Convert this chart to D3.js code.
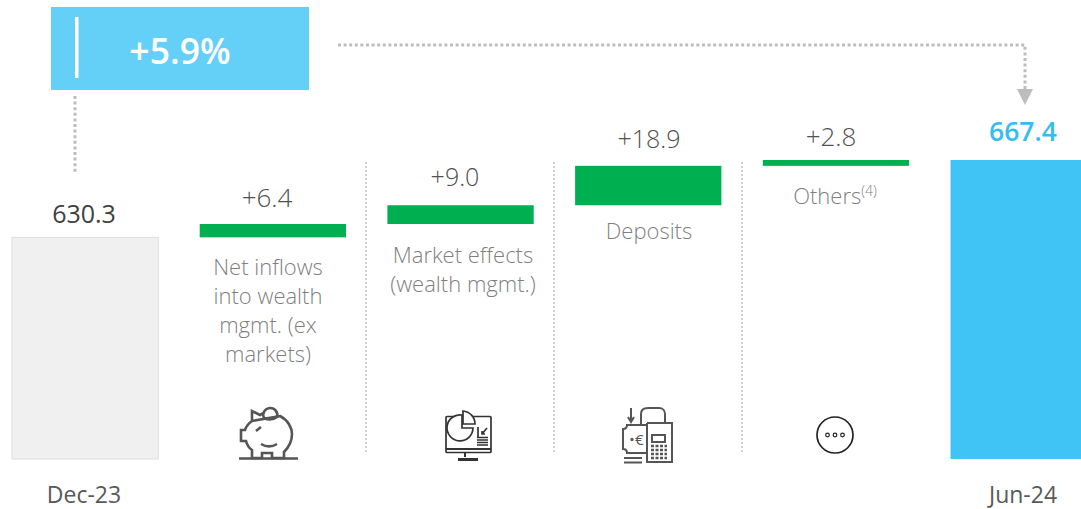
<!DOCTYPE html>
<html><head><meta charset="utf-8">
<script src="https://cdn.jsdelivr.net/npm/d3@7"></script>
<style>html,body{margin:0;padding:0;background:#fff}svg{display:block}text{font-family:"Open Sans",sans-serif}</style>
</head><body><svg id="c" width="1081" height="509"></svg>
<script>
const categories=["Dec-23","Net inflows","Market effects","Deposits","Others","Jun-24"];
const values=[630.3,6.4,9.0,18.9,2.8,667.4];
const valueLabels=["630.3","+6.4","+9.0","+18.9","+2.8","667.4"];
const descriptions=[[],["Net inflows","into wealth","mgmt. (ex","markets)"],["Market effects","(wealth mgmt.)"],["Deposits"],["Others"],[]];
const periodLabels=["Dec-23","","","","","Jun-24"];
const growthLabel="+5.9%";

const svg=d3.select("#c");
const x=d3.scaleBand().domain(categories).range([12,1096.8]).paddingInner(0.2206).paddingOuter(0);
const y=d3.scaleLinear().domain([524,667.4]).range([459,160]);

let running=0;
const rows=values.map((v,i)=>{
  if(i===0){running=v;return{c:categories[i],lo:524,hi:v,i};}
  if(i===values.length-1){return{c:categories[i],lo:524,hi:v,i};}
  const r={c:categories[i],lo:running,hi:running+v,i};running+=v;return r;
});
const fill=d=>d.i===0?"#f0f0f0":d.i===5?"#40c3f5":"#00b050";
svg.selectAll("rect.bar").data(rows).join("rect").attr("class","bar")
 .attr("x",d=>x(d.c)).attr("width",x.bandwidth())
 .attr("y",d=>y(d.hi)).attr("height",d=>y(d.lo)-y(d.hi))
 .attr("fill",fill).attr("stroke",d=>d.i===0?"#dedede":"none");

// separators
[366,554,742].forEach(px=>svg.append("line").attr("x1",px).attr("x2",px).attr("y1",162).attr("y2",453)
 .attr("stroke","#d2d2d2").attr("stroke-width",2).attr("stroke-dasharray","2 2"));

// growth box
svg.append("rect").attr("x",51).attr("y",7).attr("width",258).attr("height",83).attr("fill","#64cff7");
svg.append("rect").attr("x",75).attr("y",17).attr("width",3.5).attr("height",61).attr("fill","#fff");
svg.append("text").attr("x",180).attr("y",64).attr("text-anchor","middle").attr("font-size",35.5).attr("font-weight",600).attr("fill","#fff").text(growthLabel);

// connectors
const dot=s=>s.attr("fill","none").attr("stroke","#bdbdbd").attr("stroke-width",3).attr("stroke-dasharray","3 2.6");
dot(svg.append("path").attr("d","M75 96V174"));
dot(svg.append("path").attr("d","M338 45H1025V90"));
svg.append("path").attr("d","M1017 89H1033L1025 105Z").attr("fill","#bdbdbd");

// value labels
const labelY=[223,207,186,148,146,141];
const labelX=[84,267,455,649,831,1023];
svg.selectAll("text.val").data(valueLabels).join("text").attr("class","val")
 .attr("x",(d,i)=>labelX[i]).attr("y",(d,i)=>labelY[i]).attr("text-anchor","middle")
 .attr("font-size",(d,i)=>i===5?26.5:i===1||i===4?26:25).attr("font-weight",(d,i)=>i===5?600:i===0?400:300)
 .attr("fill",(d,i)=>i===5?"#35bcf2":i===0?"#404040":"#505050").text(d=>d);

// descriptions
const descX=[0,268,463,649,835,0], descY=[0,275,263,239,204,0];
descriptions.forEach((lines,i)=>lines.forEach((t,j)=>{
  const el=svg.append("text").attr("x",descX[i]).attr("y",descY[i]+j*29).attr("text-anchor","middle")
   .attr("font-size",22).attr("font-weight",300).attr("fill","#7f7f7f").text(t);
  if(i===4){el.append("tspan").attr("font-size",14).attr("dy",-8).text("(4)");}
}));

// period labels
svg.selectAll("text.per").data(periodLabels).join("text").attr("class","per")
 .attr("x",(d,i)=>i===0?84:1023).attr("y",503).attr("text-anchor","middle")
 .attr("font-size",23).attr("fill","#595959").text(d=>d);

// icons
const ic="#555";
const pig=svg.append("g").attr("fill","none").attr("stroke",ic).attr("stroke-width",2.6);
pig.append("path").attr("d","M239 458.5H298");
pig.append("path").attr("d","M252 421V411L260 415C262 414 263 413 264 413M280 416C288 420 292 428 292 434C292 443 287 449 284 452V458H272V453H262V458H252V450C249 448 247 445 246 441H241V430H245C246 427 249 423 252 421Z");
pig.append("path").attr("d","M264 418A7 7 0 1 1 277 417C273 420 268 420 264 418Z");
pig.append("path").attr("d","M256 431L261 427M261 444C266 447 272 447 277 444");

const mon=svg.append("g").attr("fill","none").attr("stroke","#333").attr("stroke-width",1.7);
mon.append("rect").attr("x",446).attr("y",416.5).attr("width",45).attr("height",36).attr("rx",1);
mon.append("path").attr("d","M446 449H491M465 453V457").attr("stroke-width",2);
mon.append("path").attr("d","M458 459.5H478").attr("stroke-width",3);
mon.append("path").attr("d","M462 415A13 13 0 1 0 473 428H462Z").attr("fill","#fff");
mon.append("path").attr("d","M463 411A13 13 0 0 1 475 424H463Z").attr("fill","#fff");
mon.append("path").attr("d","M478 437V427M487 428L482 434M482 431V434H485");
mon.append("path").attr("d","M477 437.5H488M477 440H488M477 442.5H488M477 445H488").attr("stroke-width",1.4);

const pos=svg.append("g").attr("fill","none").attr("stroke",ic).attr("stroke-width",2);
pos.append("path").attr("d","M631 408V421M628 417L631 422L634 417");
pos.append("path").attr("d","M641 424V414C641 409 644 408 648 408H659C663 408 665 411 665 414V428");
pos.append("path").attr("d","M647 423H672V462H647V423").attr("fill","#fff");
pos.append("rect").attr("x",652).attr("y",435).attr("width",13).attr("height",7);
pos.append("path").attr("d","M651 446H667M651 450H667M651 454H667M651 458H667").attr("stroke-dasharray","3 1.5").attr("stroke-width",2.5);
pos.append("path").attr("d","M647 425H627Q627 429 623 429V449Q627 449 627 453H647");
pos.append("path").attr("d","M624 458H642M624 462.5H642");
pos.append("text").attr("x",635).attr("y",445).attr("font-size",15).attr("fill",ic).attr("stroke","none").text("€");
pos.append("circle").attr("cx",632).attr("cy",439.5).attr("r",0.7);

svg.append("circle").attr("cx",835).attr("cy",435).attr("r",18).attr("fill","#fff").attr("stroke","#222").attr("stroke-width",1.7);
[827.5,835,842.5].forEach(cx=>svg.append("circle").attr("cx",cx).attr("cy",435).attr("r",1.8).attr("fill","none").attr("stroke","#222").attr("stroke-width",1.2));
</script></body></html>
